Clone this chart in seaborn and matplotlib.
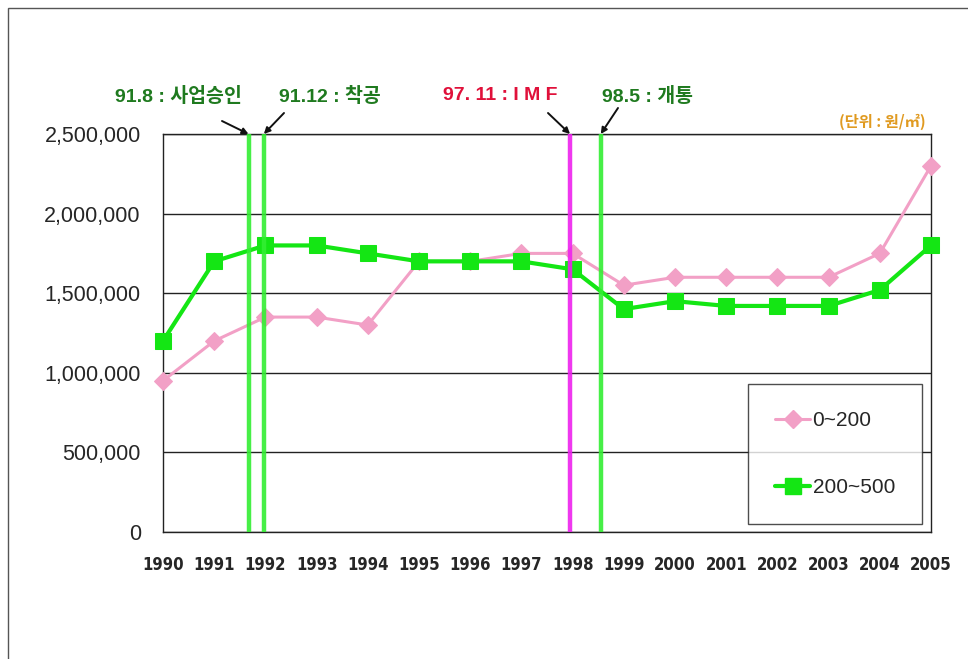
import matplotlib
matplotlib.use("Agg")
import matplotlib.pyplot as plt
from matplotlib import font_manager
from matplotlib.patches import Rectangle
from matplotlib.lines import Line2D
import seaborn as sns
import pandas as pd

# ---- data -------------------------------------------------------------
years = list(range(1990, 2006))
price_0_200 = [950000, 1200000, 1350000, 1350000, 1300000, 1700000, 1700000, 1750000,
               1750000, 1550000, 1600000, 1600000, 1600000, 1600000, 1750000, 2300000]
price_200_500 = [1200000, 1700000, 1800000, 1800000, 1750000, 1700000, 1700000, 1700000,
                 1650000, 1400000, 1450000, 1420000, 1420000, 1420000, 1520000, 1800000]
series_names = ["0~200", "200~500"]

# milestones (fractional year position, label, colours)
event_pos = [1991.67, 1991.97, 1997.95, 1998.55]
event_labels = ["91.8 : 사업승인", "91.12 : 착공", "97. 11 : I M F", "98.5 : 개통"]
event_text_colors = ["#1f7a1f", "#1f7a1f", "#e0103a", "#1f7a1f"]
event_line_colors = ["#33ee33", "#33ee33", "#ee22ee", "#33ee33"]
unit_label = "(단위 : 원/㎡)"

yticks = [0, 500000, 1000000, 1500000, 2000000, 2500000]

# ---- fonts ------------------------------------------------------------
sns.set_theme(style="white")
installed = {f.name for f in font_manager.fontManager.ttflist}
base_font = "Liberation Sans" if "Liberation Sans" in installed else "DejaVu Sans"
if "Liberation Sans Narrow" in installed:
    narrow_kw = dict(fontfamily="Liberation Sans Narrow")
else:
    narrow_kw = dict(fontfamily="DejaVu Sans", fontstretch="condensed")
plt.rcParams["font.family"] = [base_font, "Noto Sans CJK KR", "DejaVu Sans"]
kr_fonts = ["Noto Sans CJK KR", "DejaVu Sans"]

df = pd.DataFrame({
    "year": years * 2,
    "price": price_0_200 + price_200_500,
    "group": [series_names[0]] * len(years) + [series_names[1]] * len(years),
})

pink = "#f2a0c6"
green = "#14e614"

W, H = 968, 659
fig = plt.figure(figsize=(W / 100, H / 100), dpi=100)
ax = fig.add_axes([163 / W, 1 - 532 / H, (931 - 163) / W, (532 - 134) / H])

sns.lineplot(data=df[df.group == series_names[0]], x="year", y="price", ax=ax,
             color=pink, lw=2.2, marker="D", markersize=9, markeredgecolor=pink,
             zorder=3, legend=False, clip_on=False)
sns.lineplot(data=df[df.group == series_names[1]], x="year", y="price", ax=ax,
             color=green, lw=3, marker="s", markersize=11.5, markeredgecolor=green,
             zorder=4, legend=False, clip_on=False)

for xp, lc in zip(event_pos, event_line_colors):
    ax.axvline(xp, color=lc, lw=3.2, zorder=5, alpha=0.9)

ax.set_xlim(1990, 2005)
ax.set_ylim(0, 2500000)
ax.set_yticks(yticks)
ax.set_yticklabels([f"{v:,}" for v in yticks], fontsize=15.5, fontfamily=base_font)
ax.set_xticks(years)
ax.set_xticklabels([str(y) for y in years], fontsize=12, fontweight="bold", **narrow_kw)
ax.tick_params(axis="x", direction="out", length=4, width=0.8, color="#222222", pad=13)
ax.tick_params(axis="y", length=0, pad=16)
ax.set_xlabel("")
ax.set_ylabel("")
ax.yaxis.grid(True, color="#222222", lw=1)
ax.xaxis.grid(False)
for s in ax.spines.values():
    s.set_color("#222222")
    s.set_linewidth(1)

# milestone labels with arrows pointing at the top of each line
label_xy = [(178, 96), (330, 96), (500, 96), (648, 96)]
arrow_start = [(222, 121), (284, 113), (548, 113), (618, 108)]
for xp, lab, tc, (lx, ly), (sx, sy) in zip(event_pos, event_labels, event_text_colors,
                                            label_xy, arrow_start):
    fig.text(lx / W, 1 - ly / H, lab, color=tc, fontsize=14, fontweight="bold",
             ha="center", va="center", family=[base_font] + kr_fonts)
    ax.annotate("", xy=(xp, 2500000), xycoords="data",
                xytext=(sx / W, 1 - sy / H), textcoords="figure fraction",
                arrowprops=dict(arrowstyle="-|>", color="#111111", lw=1.4,
                                mutation_scale=9, shrinkA=0, shrinkB=0),
                annotation_clip=False, zorder=6)

fig.text(882 / W, 1 - 122 / H, unit_label, color="#e09a20", fontsize=11,
         fontweight="bold", ha="center", va="center", family=kr_fonts)

# legend
handles = [
    Line2D([], [], color=pink, lw=2.2, marker="D", markersize=9, markeredgecolor=pink),
    Line2D([], [], color=green, lw=3, marker="s", markersize=11.5, markeredgecolor=green),
]
leg = ax.legend(handles, series_names, loc="lower right",
                bbox_to_anchor=((922 - 163) / (931 - 163), (532 - 524) / (532 - 134)),
                frameon=True, fancybox=False, handlelength=1.7,
                handletextpad=0.1, labelspacing=2.3, borderpad=1.3,
                borderaxespad=0, prop={"family": base_font, "size": 15})
leg.get_frame().set_edgecolor("#222222")
leg.get_frame().set_linewidth(1)
leg.set_zorder(10)

# outer border of the figure
fig.patches.append(Rectangle((8 / W, -0.05), 1.0, 1 - 8 / H + 0.05,
                             transform=fig.transFigure, fill=False,
                             edgecolor="#555555", lw=1))

fig.savefig("out.png", dpi=100)
